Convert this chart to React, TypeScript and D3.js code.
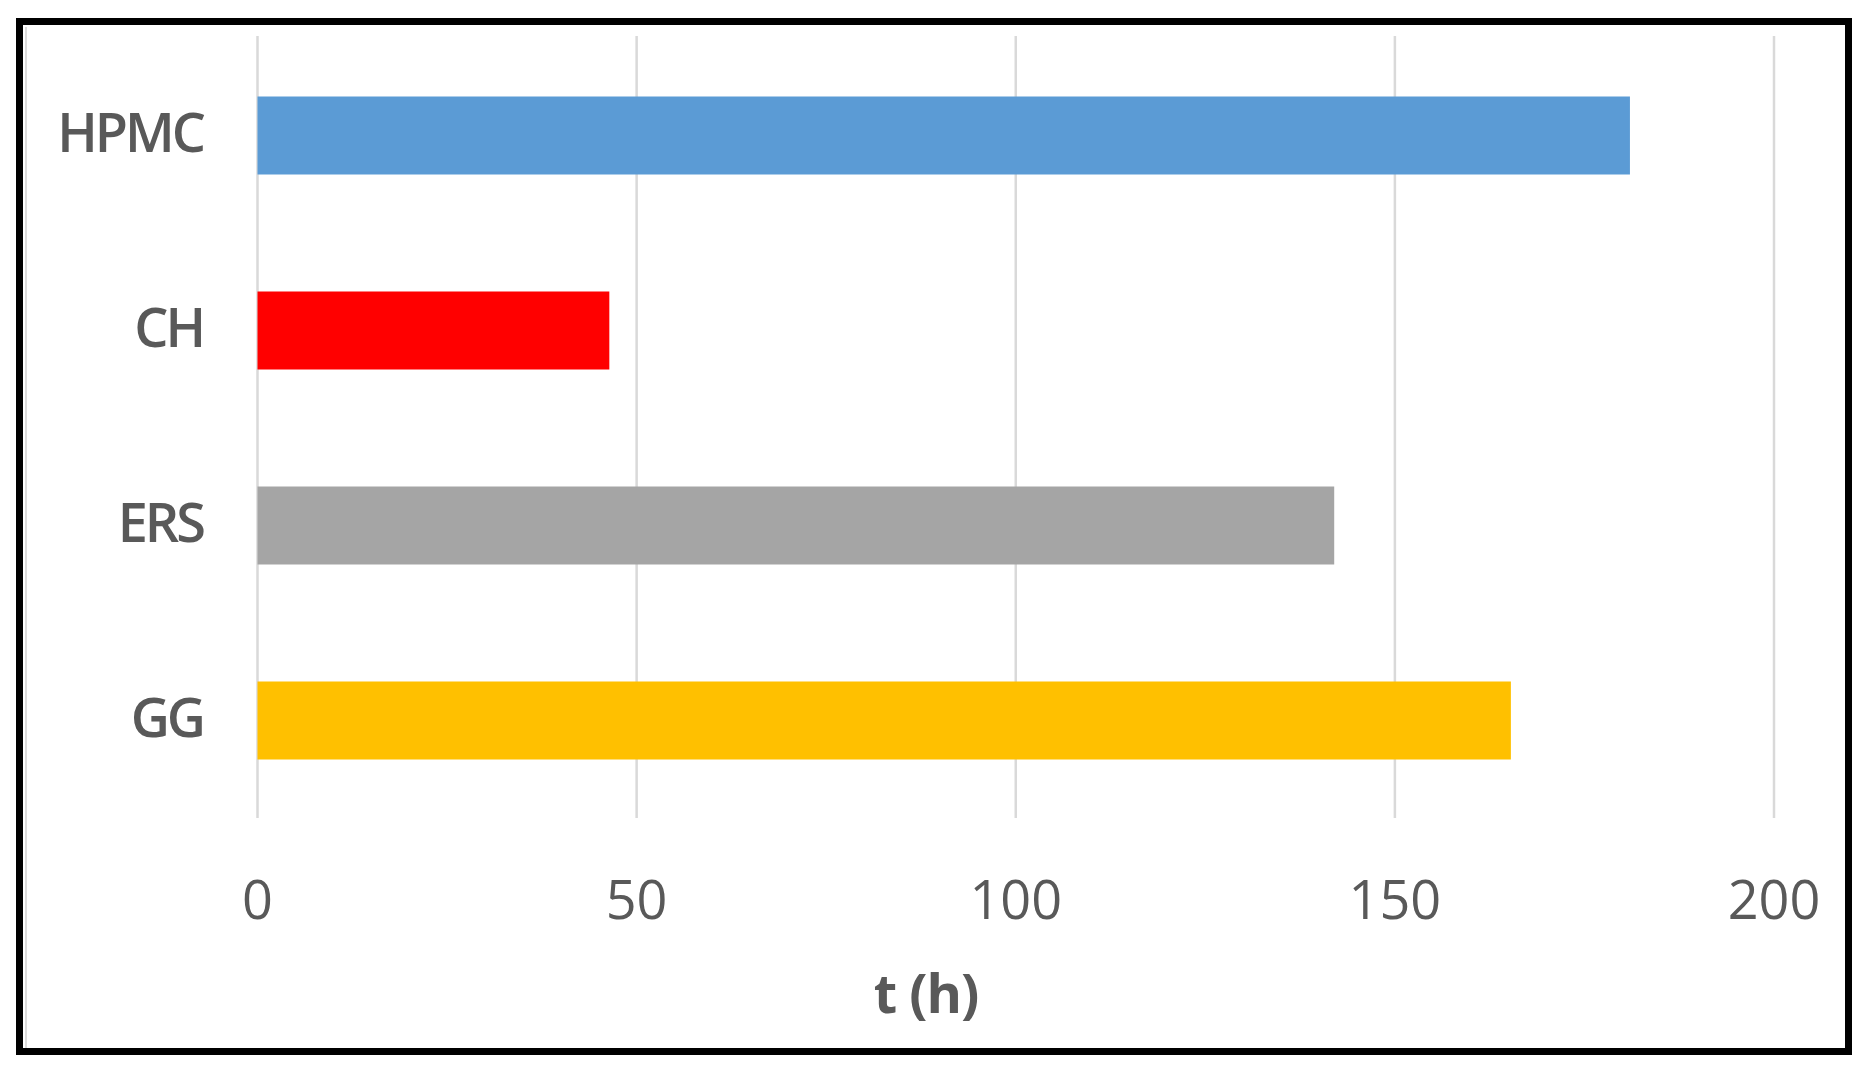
import * as d3 from "d3";

const categories = ["HPMC", "CH", "ERS", "GG"];
const values = [181, 46.4, 142, 165.3];
const barColors = ["#5B9BD5", "#FF0000", "#A5A5A5", "#FFC000"];
const xTicks = [0, 50, 100, 150, 200];
const xTitle = "t (h)";

const W = 1869;
const H = 1076;

const App = () => {
  const x = d3.scaleLinear().domain([0, 200]).range([257.5, 1774]);
  const y = d3
    .scaleBand<string>()
    .domain(categories)
    .range([38, 818])
    .paddingInner(0.6)
    .paddingOuter(0.3);

  const font = "'Open Sans', 'Noto Sans', sans-serif";

  return (
    <svg
      width={W}
      height={H}
      style={{ position: "absolute", left: 0, top: 0, background: "#fff" }}
    >
      <rect x={0} y={0} width={W} height={H} fill="#fff" />

      {/* gridlines */}
      {xTicks.map((t) => (
        <line
          key={t}
          x1={x(t)}
          x2={x(t)}
          y1={y.range()[0] - 2}
          y2={y.range()[1]}
          stroke="#d9d9d9"
          strokeWidth={2.5}
        />
      ))}

      {/* bars */}
      {categories.map((c, i) => (
        <rect
          key={c}
          x={x(0)}
          y={y(c)}
          width={x(values[i]) - x(0)}
          height={y.bandwidth()}
          fill={barColors[i]}
        />
      ))}

      {/* category labels */}
      {categories.map((c) => (
        <text
          key={c}
          x={203}
          y={(y(c) || 0) + y.bandwidth() / 2}
          dy={16.5}
          textAnchor="end"
          fontFamily={font}
          fontWeight={600}
          fontSize={54}
          letterSpacing={-3}
          fill="#595959"
        >
          {c}
        </text>
      ))}

      {/* tick labels */}
      {xTicks.map((t) => (
        <text
          key={t}
          x={x(t)}
          y={919}
          textAnchor="middle"
          fontFamily={font}
          fontSize={54}
          fill="#595959"
        >
          {t}
        </text>
      ))}

      <text
        x={926}
        y={1013}
        textAnchor="middle"
        fontFamily={font}
        fontWeight={700}
        fontSize={54}
        letterSpacing={-1}
        fill="#595959"
      >
        {xTitle}
      </text>

      {/* frame */}
      <line x1={26} x2={26} y1={27} y2={1049} stroke="#dcdcdc" strokeWidth={2} />
      <rect
        x={19.5}
        y={21.5}
        width={1829}
        height={1030}
        fill="none"
        stroke="#000"
        strokeWidth={7}
      />
    </svg>
  );
};

export default App;
